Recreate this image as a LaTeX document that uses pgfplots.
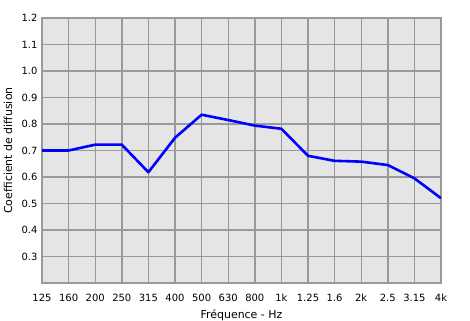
\documentclass[border=0pt]{standalone}
\usepackage{fontspec}
\setmainfont{DejaVu Sans}
\usepackage{pgfplots}
\pgfplotsset{compat=1.18}
\begin{document}
\fontsize{10}{12}\selectfont
\begin{tikzpicture}
\useasboundingbox (-42bp,-38bp) rectangle (428bp,283bp);
\begin{axis}[
  scale only axis,
  width=399bp, height=265bp,
  xmin=0, xmax=15, ymin=0.2, ymax=1.2,
  xtick={0,...,15},
  xticklabels={125,160,200,250,315,400,500,630,800,1k,1.25,1.6,2k,2.5,3.15,4k},
  ytick={0.3,0.4,0.5,0.6,0.7,0.8,0.9,1.0,1.1,1.2},
  /pgf/number format/assume math mode=true,
  yticklabel style={/pgf/number format/fixed,/pgf/number format/fixed zerofill,/pgf/number format/precision=1, xshift=-1bp},
  xticklabel style={anchor=base, yshift=-18.5bp},
  major tick length=0pt,
  grid=major,
  major grid style={draw=black!40, line width=1.4bp},
  axis line style={draw=black!40, line width=1.4bp},
  axis background/.style={fill=black!10},
  tick label style={font=\fontsize{10}{12}\selectfont},
  label style={font=\fontsize{11}{13}\selectfont},
  xlabel={Fréquence - Hz},
  ylabel={Coefficient de diffusion},
  xlabel style={at={(axis description cs:0.5,-0.1358)}, anchor=base},
  ylabel style={at={(axis description cs:-0.0852,0.5)}, anchor=center},
]
\addplot[color=blue, line width=2.6bp, line join=round] coordinates {
(0,0.70) (1,0.70) (2,0.722) (3,0.722) (4,0.618) (5,0.748) (6,0.835) (7,0.815) (8,0.794) (9,0.782) (10,0.68) (11,0.661) (12,0.658) (13,0.645) (14,0.595) (15,0.52)
};
\end{axis}
\end{tikzpicture}
\end{document}
